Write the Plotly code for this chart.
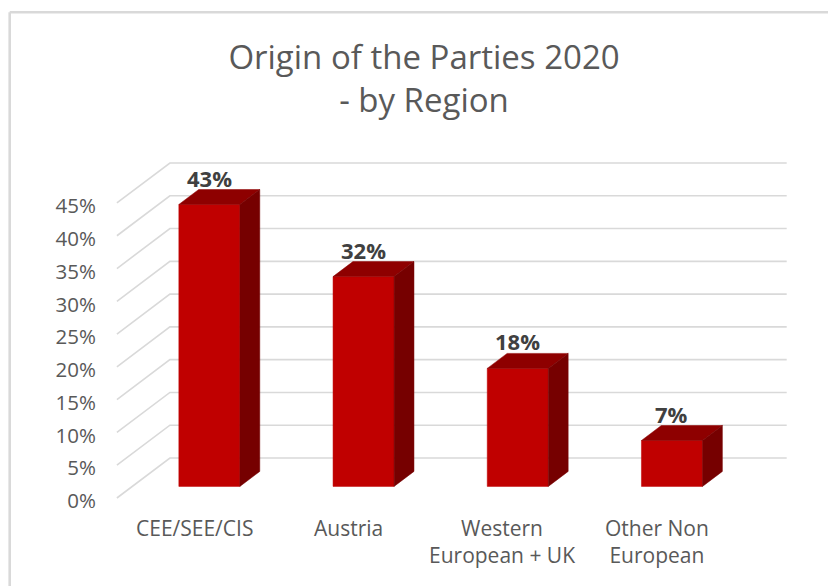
import plotly.graph_objects as go

# ---------------- data ----------------
categories = ["CEE/SEE/CIS", "Austria", "Western<br>European + UK", "Other Non<br>European"]
values = [43, 32, 18, 7]
value_labels = ["43%", "32%", "18%", "7%"]
tick_values = [0, 5, 10, 15, 20, 25, 30, 35, 40, 45]
tick_labels = ["0%", "5%", "10%", "15%", "20%", "25%", "30%", "35%", "40%", "45%"]
title_text = "Origin of the Parties 2020<br>- by Region"

# ---------------- pseudo-3D styling ----------------
DEPTH_X = 0.3437      # full depth shift in category units
DEPTH_Y = 6.10        # full depth shift in percent units
BAR_F0 = 0.29         # bar front plane (fraction of depth)
BAR_F1 = 0.665        # bar back plane
BAR_HALF = 0.198      # bar half width (category units)
FLOOR_L = -0.5
FLOOR_R = len(categories) - 0.5

FONT = "Open Sans"
TEXT_GREY = "#595959"
LABEL_GREY = "#404040"
GRID = "#d9d9d9"
FRONT = "#c00000"
TOP = "#8e0000"
SIDE = "#760000"

fig = go.Figure()

# gridlines: side wall diagonals + back wall horizontals
gx, gy = [], []
for v in tick_values:
    gx += [FLOOR_L, FLOOR_L + DEPTH_X, FLOOR_R + DEPTH_X, None]
    gy += [v, v + DEPTH_Y, v + DEPTH_Y, None]
fig.add_trace(go.Scatter(x=gx, y=gy, mode="lines", line=dict(color=GRID, width=1.6),
                         hoverinfo="skip", showlegend=False))

# bars
for i, h in enumerate(values):
    xl = i - BAR_HALF
    xr = i + BAR_HALF
    ox0, oy0 = BAR_F0 * DEPTH_X, BAR_F0 * DEPTH_Y
    ox1, oy1 = BAR_F1 * DEPTH_X, BAR_F1 * DEPTH_Y
    faces = [
        ([xl + ox0, xr + ox0, xr + ox0, xl + ox0, xl + ox0],
         [oy0, oy0, h + oy0, h + oy0, oy0], FRONT),
        ([xl + ox0, xr + ox0, xr + ox1, xl + ox1, xl + ox0],
         [h + oy0, h + oy0, h + oy1, h + oy1, h + oy0], TOP),
        ([xr + ox0, xr + ox1, xr + ox1, xr + ox0, xr + ox0],
         [oy0, oy1, h + oy1, h + oy0, oy0], SIDE),
    ]
    for fx, fy, col in faces:
        fig.add_trace(go.Scatter(x=fx, y=fy, mode="lines", fill="toself", fillcolor=col,
                                 line=dict(color=col, width=0.5), hoverinfo="skip",
                                 showlegend=False))
    fig.add_annotation(x=i + BAR_F0 * DEPTH_X, y=h + BAR_F1 * DEPTH_Y, xref="x", yref="y",
                       text=value_labels[i], showarrow=False, yanchor="middle", yshift=12,
                       font=dict(family=FONT, size=22, color=LABEL_GREY, weight="bold"))

# category labels at the front plane
for i, c in enumerate(categories):
    fig.add_annotation(x=i, y=-2.2, xref="x", yref="y", text=c, showarrow=False,
                       yanchor="top", align="center",
                       font=dict(family=FONT, size=21, color=TEXT_GREY))

W, H = 836, 586
ML = 89
X0, XS = 186, 154.2    # front-plane pixel of first category, pixels per category
Y0, YS = 490, 6.556    # front-plane pixel of 0 %, pixels per percent

# chart frame (left and top border)
fx0 = (1.7 - ML) / (W - ML)
fy0 = 1 - 4.3 / H
fig.add_shape(type="line", xref="paper", yref="paper", x0=fx0, x1=fx0, y0=fy0, y1=-0.2,
              line=dict(color="#d9d9d9", width=2.6))
fig.add_shape(type="line", xref="paper", yref="paper", x0=fx0, x1=1.2, y0=fy0, y1=fy0,
              line=dict(color="#d9d9d9", width=2.6))

fig.update_layout(
    width=W, height=H,
    margin=dict(l=ML, r=0, t=0, b=0),
    paper_bgcolor="white", plot_bgcolor="white",
    title=dict(text=title_text, x=416 / W, xanchor="center", xref="container",
               y=1 - 61 / H, yanchor="middle", yref="container",
               font=dict(family=FONT, size=33, color=TEXT_GREY)),
    xaxis=dict(range=[(ML - X0) / XS, (W - X0) / XS], visible=False),
    yaxis=dict(range=[(Y0 - H) / YS, Y0 / YS], tickvals=tick_values, ticktext=tick_labels,
               showgrid=False, zeroline=False, showline=False, ticks="",
               ticklabelshift=3,
               tickfont=dict(family=FONT, size=20.5, color=TEXT_GREY)),
    showlegend=False,
)

fig.write_html("out.html")
